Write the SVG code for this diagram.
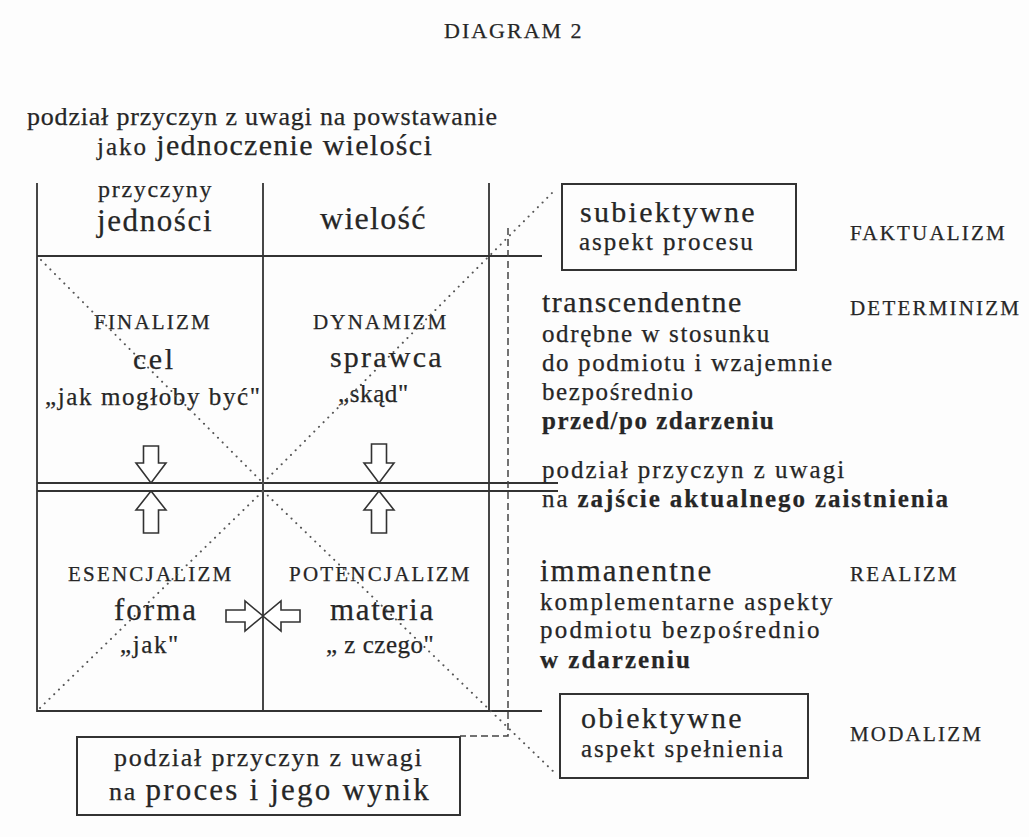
<svg xmlns="http://www.w3.org/2000/svg" width="1029" height="837" viewBox="0 0 1029 837">
<style>
text{font-family:"Liberation Serif","Times New Roman",serif;fill:#262626;stroke:#262626;stroke-width:0.25px}
.cap{font-size:21px;letter-spacing:2.2px}
.mid{font-size:25px}
.b{font-weight:bold}
.ln{stroke:#333;stroke-width:1.8;fill:none}
.box{stroke:#333;stroke-width:2;fill:none}
.dash{stroke:#444;stroke-width:1.5;fill:none;stroke-dasharray:7 4}
.dot{stroke:#555;stroke-width:2;fill:none;stroke-dasharray:0.1 6.5;stroke-linecap:round}
.arr{stroke:#333;stroke-width:1.6;fill:#fff;stroke-linejoin:miter}
</style>
<rect width="1029" height="837" fill="#fdfdfd"/>

<g id="title">
<text x="444" y="38" style="font-size:22px;letter-spacing:2px">DIAGRAM 2</text>
</g>

<g id="heading">
<text x="27" y="125" style="font-size:26px;letter-spacing:0.8px">podział przyczyn z uwagi na powstawanie</text>
<text x="97" y="155"><tspan style="font-size:25px;letter-spacing:2px">jako </tspan><tspan style="font-size:30px;letter-spacing:1.3px">jednoczenie wielości</tspan></text>
</g>

<g id="grid">
<line class="ln" x1="37" y1="183" x2="37" y2="712"/>
<line class="ln" x1="263" y1="183" x2="263" y2="712"/>
<line class="ln" x1="489" y1="183" x2="489" y2="712"/>
<line class="ln" x1="37" y1="256" x2="542" y2="256"/>
<line class="ln" x1="37" y1="483" x2="558" y2="483"/>
<line class="ln" x1="37" y1="491" x2="558" y2="491"/>
<line class="ln" x1="37" y1="711" x2="542" y2="711"/>
</g>

<g id="header-left">
<text x="98" y="197" style="font-size:24px;letter-spacing:1.7px">przyczyny</text>
<text x="97" y="231" style="font-size:31px;letter-spacing:1.6px">jedności</text>
</g>
<g id="header-right">
<text x="320" y="229" style="font-size:32px;letter-spacing:1.3px">wielość</text>
</g>

<g id="cell-finalizm">
<text class="cap" x="94" y="329">FINALIZM</text>
<text x="133" y="369" style="font-size:30px;letter-spacing:2.5px">cel</text>
<text x="45" y="405" style="font-size:25px;letter-spacing:1.6px">„jak mogłoby być"</text>
</g>
<g id="cell-dynamizm">
<text class="cap" x="313" y="329">DYNAMIZM</text>
<text x="330" y="367" style="font-size:30px;letter-spacing:2.2px">sprawca</text>
<text x="338" y="402" style="font-size:25px;letter-spacing:0.6px">„skąd"</text>
</g>
<g id="cell-esencjalizm">
<text class="cap" x="68" y="581">ESENCJALIZM</text>
<text x="114" y="620" style="font-size:31px;letter-spacing:2px">forma</text>
<text x="120" y="653" style="font-size:25px;letter-spacing:1.6px">„jak"</text>
</g>
<g id="cell-potencjalizm">
<text class="cap" x="289" y="581">POTENCJALIZM</text>
<text x="330" y="620" style="font-size:31px;letter-spacing:1.7px">materia</text>
<text x="326" y="653" style="font-size:25px;letter-spacing:0.5px">„ z czego"</text>
</g>

<g id="box-subiektywne">
<rect class="box" x="562" y="184" width="234" height="86"/>
<text x="580" y="222" style="font-size:30px;letter-spacing:2.3px">subiektywne</text>
<text x="579" y="250" style="font-size:25px;letter-spacing:2px">aspekt procesu</text>
</g>
<g id="label-faktualizm"><text class="cap" x="850" y="240">FAKTUALIZM</text></g>

<g id="transcendentne">
<text x="542" y="312" style="font-size:30px;letter-spacing:1.5px">transcendentne</text>
<text class="mid" x="542" y="342" style="letter-spacing:1.6px">odrębne w stosunku</text>
<text class="mid" x="542" y="371" style="letter-spacing:1.6px">do podmiotu i wzajemnie</text>
<text class="mid" x="542" y="400" style="letter-spacing:1.6px">bezpośrednio</text>
<text class="mid b" x="542" y="429" style="letter-spacing:1.5px">przed/po zdarzeniu</text>
</g>
<g id="label-determinizm"><text class="cap" x="850" y="315">DETERMINIZM</text></g>

<g id="zajscie">
<text class="mid" x="542" y="478" style="letter-spacing:2px">podział przyczyn z uwagi</text>
<text class="mid" x="542" y="507" style="letter-spacing:1.9px">na <tspan class="b">zajście aktualnego zaistnienia</tspan></text>
</g>

<g id="immanentne">
<text x="540" y="581" style="font-size:31px;letter-spacing:2px">immanentne</text>
<text class="mid" x="540" y="610" style="letter-spacing:2px">komplementarne aspekty</text>
<text class="mid" x="540" y="638" style="letter-spacing:2.2px">podmiotu bezpośrednio</text>
<text class="mid b" x="540" y="668" style="letter-spacing:2px">w zdarzeniu</text>
</g>
<g id="label-realizm"><text class="cap" x="850" y="581">REALIZM</text></g>

<g id="box-obiektywne">
<rect class="box" x="560" y="694" width="248" height="84"/>
<text x="581" y="728" style="font-size:30px;letter-spacing:2.3px">obiektywne</text>
<text x="581" y="757" style="font-size:25px;letter-spacing:1.9px">aspekt spełnienia</text>
</g>
<g id="label-modalizm"><text class="cap" x="850" y="741">MODALIZM</text></g>

<g id="box-proces">
<rect class="box" x="77" y="737" width="383" height="78"/>
<text x="114" y="766" style="font-size:26px;letter-spacing:1.8px">podział przyczyn z uwagi</text>
<text x="109" y="800"><tspan style="font-size:26px;letter-spacing:1.8px">na </tspan><tspan style="font-size:31px;letter-spacing:2.2px">proces i jego wynik</tspan></text>
</g>

<g id="connectors">
<path class="dash" d="M508,228 V736 H460"/>
<line class="dot" x1="41" y1="260" x2="263" y2="483"/>
<line class="dot" x1="263" y1="483" x2="556" y2="189"/>
<line class="dot" x1="40" y1="708" x2="263" y2="491"/>
<line class="dot" x1="263" y1="491" x2="557" y2="775"/>
<polygon class="arr" points="143.5,446 158.5,446 158.5,463 166,463 151,483 136,463 143.5,463"/>
<polygon class="arr" points="371.5,444 386.5,444 386.5,463 394,463 379,483 364,463 371.5,463"/>
<polygon class="arr" points="151,491 166,510 158.5,510 158.5,533 143.5,533 143.5,510 136,510"/>
<polygon class="arr" points="379,491 394,510 386.5,510 386.5,533 371.5,533 371.5,510 364,510"/>
<polygon class="arr" points="226,610 245,610 245,601 263,616 245,631 245,622 226,622"/>
<polygon class="arr" points="300,610 281,610 281,601 263,616 281,631 281,622 300,622"/>
</g>
</svg>
